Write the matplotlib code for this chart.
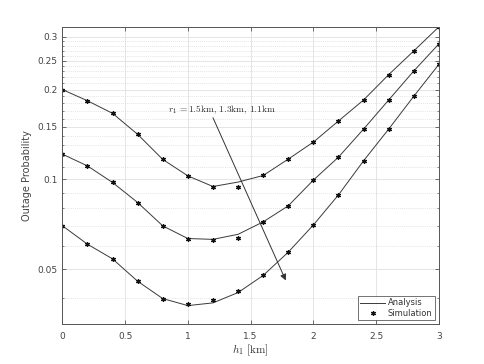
import numpy as np
import matplotlib
matplotlib.use("Agg")
import matplotlib.pyplot as plt
from matplotlib.ticker import FixedLocator, NullFormatter

plt.rcParams["mathtext.fontset"] = "cm"

# h1 grid [km]
h1 = [0.0, 0.2, 0.4, 0.6, 0.8, 1.0, 1.2, 1.4, 1.6, 1.8, 2.0, 2.2, 2.4, 2.6, 2.8, 3.0]

# analysis curves, r1 = 1.5, 1.3, 1.1 km
ana_15 = [0.200, 0.1835, 0.1665, 0.1416, 0.1167, 0.1028, 0.0947, 0.0980, 0.1031, 0.1170,
          0.1334, 0.1570, 0.1846, 0.2244, 0.2695, 0.3245]
ana_13 = [0.1216, 0.1110, 0.0977, 0.0837, 0.0699, 0.0634, 0.0630, 0.0655, 0.0721, 0.0816,
          0.0995, 0.1188, 0.1475, 0.1846, 0.2309, 0.2845]
ana_11 = [0.0700, 0.0607, 0.0542, 0.0456, 0.0399, 0.0378, 0.0386, 0.0418, 0.0477, 0.0571,
          0.0704, 0.0888, 0.1155, 0.1475, 0.1900, 0.2430]

# simulation points
sim_15 = [0.200, 0.1835, 0.1665, 0.1416, 0.1167, 0.1028, 0.0947, 0.0947, 0.1031, 0.1170,
          0.1334, 0.1570, 0.1846, 0.2244, 0.2695, 0.3245]
sim_13 = [0.1216, 0.1110, 0.0977, 0.0837, 0.0699, 0.0634, 0.0626, 0.0638, 0.0721, 0.0816,
          0.0995, 0.1188, 0.1475, 0.1846, 0.2309, 0.2845]
sim_11 = [0.0700, 0.0607, 0.0542, 0.0456, 0.0399, 0.0383, 0.0394, 0.0422, 0.0477, 0.0571,
          0.0704, 0.0888, 0.1155, 0.1475, 0.1900, 0.2430]

y_ticks = [0.05, 0.1, 0.15, 0.2, 0.25, 0.3]
y_tick_labels = ["0.05", "0.1", "0.15", "0.2", "0.25", "0.3"]
y_minor = [0.04, 0.06, 0.07, 0.08, 0.09] + [round(0.11 + 0.01 * i, 2) for i in range(19)]
y_minor = [v for v in y_minor if v not in y_ticks]
x_ticks = [0, 0.5, 1, 1.5, 2, 2.5, 3]
x_tick_labels = ["0", "0.5", "1", "1.5", "2", "2.5", "3"]

line_col = "#3a3a3a"
axis_col = "#555555"
asterisk = (6, 2, 0)

fig = plt.figure(figsize=(4.85, 3.64), dpi=100)
ax = fig.add_axes([0.1285, 0.1099, 0.7765, 0.8159])

for i, (ana, sim) in enumerate([(ana_15, sim_15), (ana_13, sim_13), (ana_11, sim_11)]):
    ax.plot(h1, ana, color=line_col, lw=0.7, label="Analysis" if i == 0 else None)
    ax.plot(h1, sim, ls="none", marker=asterisk, ms=3.4, color="#111111", mew=0.9,
            label="Simulation" if i == 0 else None)

ax.set_yscale("log")
ax.set_xlim(0, 3)
ax.set_ylim(0.0328, 0.324)
ax.yaxis.set_major_locator(FixedLocator(y_ticks))
ax.set_yticklabels(y_tick_labels)
ax.yaxis.set_minor_locator(FixedLocator(y_minor))
ax.yaxis.set_minor_formatter(NullFormatter())
ax.set_xticks(x_ticks)
ax.set_xticklabels(x_tick_labels)

ax.grid(True, which="major", color="#e0e0e0", lw=0.6, ls="-")
ax.grid(True, which="minor", axis="y", color="#dcdcdc", lw=0.5, ls=(0, (1.5, 1.5)))
ax.set_axisbelow(True)

ax.tick_params(which="both", direction="in", top=True, right=True, colors=axis_col,
               labelsize=6.5, labelcolor="#444444")
ax.tick_params(which="major", length=3, width=0.6)
ax.tick_params(which="minor", length=1.5, width=0.5)
ax.tick_params(axis="x", pad=6)
for sp in ax.spines.values():
    sp.set_color(axis_col)
    sp.set_linewidth(0.7)

ax.set_xlabel(r"$h_1\ [\mathrm{km}]$", fontsize=8, color="#333333", labelpad=1)
ax.set_ylabel("Outage Probability", fontsize=7, color="#444444", labelpad=4)

ax.annotate("", xy=(1.78, 0.0459), xytext=(1.2, 0.161),
            arrowprops=dict(arrowstyle="-|>", color="#333333", lw=0.7,
                            mutation_scale=9, shrinkA=0, shrinkB=0))
ax.text(0.84, 0.163, r"$r_1\,\mathrm{=1.5km,}\,\mathrm{1.3km,}\,\mathrm{1.1km}$", fontsize=6.8,
        color="#333333", ha="left", va="bottom")

leg = ax.legend(loc="lower right", fontsize=6, frameon=True, fancybox=False,
                edgecolor="#333333", handlelength=3.0, handletextpad=0.3,
                borderpad=0.25, labelspacing=0.15, borderaxespad=0.5)
leg.get_frame().set_linewidth(0.6)
for t in leg.get_texts():
    t.set_color("#333333")

fig.savefig("out.png", dpi=100)
